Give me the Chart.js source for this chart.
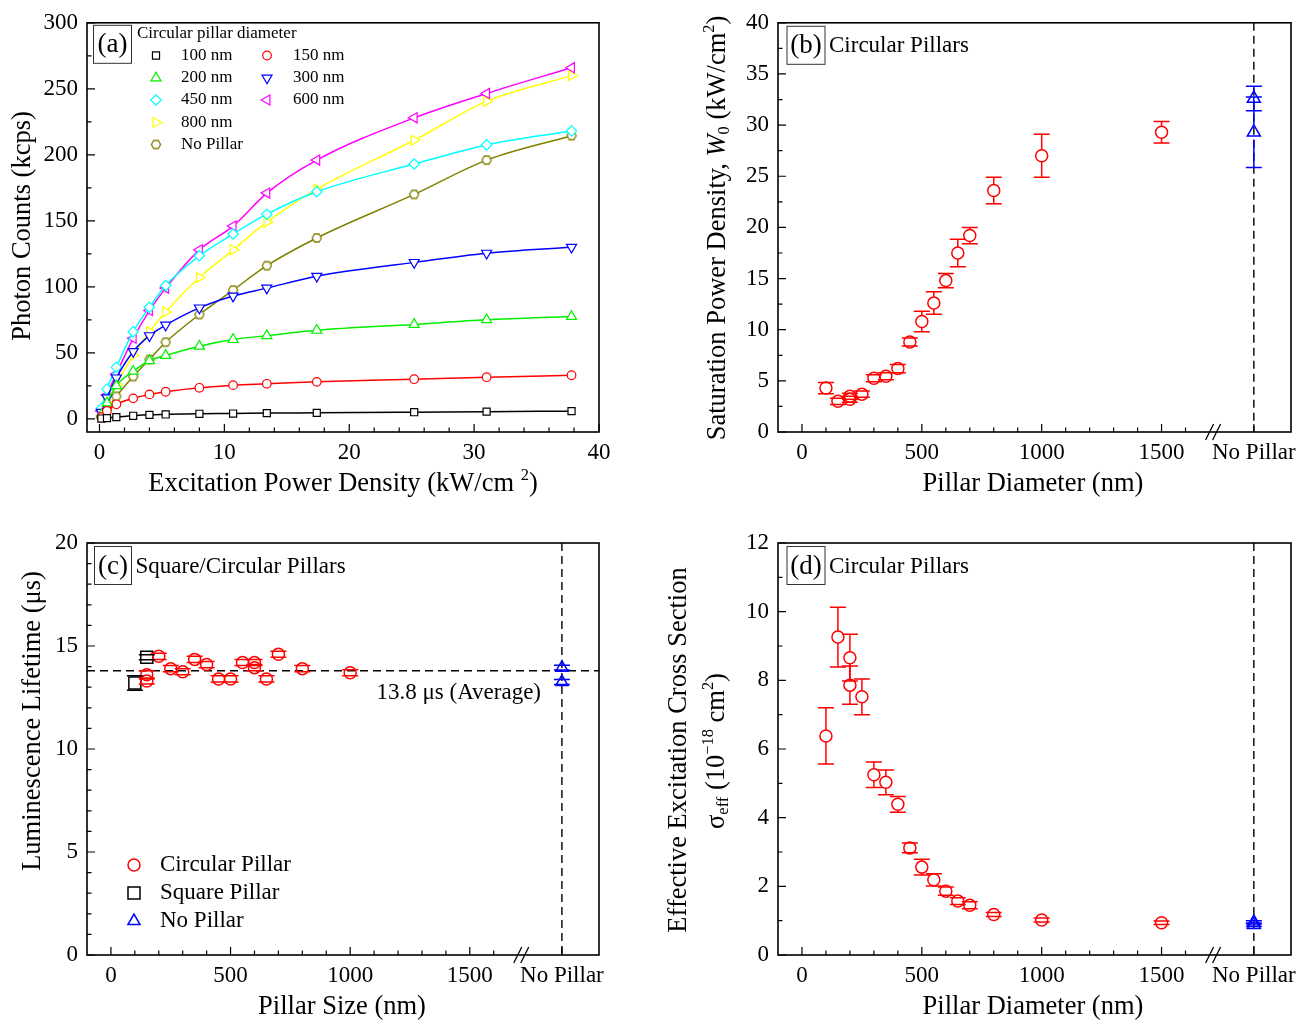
<!DOCTYPE html>
<html>
<head>
<meta charset="utf-8">
<title>Pillar photon counts, saturation, lifetime, cross section</title>
<script src="https://cdn.jsdelivr.net/npm/chart.js@4.4.1/dist/chart.umd.min.js"></script>
<style>
    html, body { margin: 0; padding: 0; background: #fff; }
    #fig { position: relative; width: 1311px; height: 1023px; }
    #fig canvas { position: absolute; }
</style>
</head>
<body>
<div id="fig">
    <canvas id="panelA" width="655" height="511" style="left:0;top:0"></canvas>
    <canvas id="panelB" width="656" height="511" style="left:655px;top:0"></canvas>
    <canvas id="panelC" width="655" height="512" style="left:0;top:511px"></canvas>
    <canvas id="panelD" width="656" height="512" style="left:655px;top:511px"></canvas>
</div>
<script>
// (a) photon counts (kcps) vs excitation power density (kW/cm2)
const powerDensity = [0.15, 0.6, 1.35, 2.7, 4.0, 5.3, 8.0, 10.7, 13.4, 17.4, 25.2, 31.0, 37.8];
const counts100 = [0.2, 0.5, 1.3, 2.3, 3.0, 3.3, 3.8, 4.0, 4.3, 4.5, 5.0, 5.4, 5.8];
const counts150 = [1.2, 6.0, 11.0, 15.5, 18.5, 20.5, 23.5, 25.5, 26.5, 28.0, 30.0, 31.5, 33.0];
const counts200 = [3.0, 12.0, 25.0, 36.0, 44.0, 48.0, 55.0, 60.0, 63.0, 67.0, 71.5, 75.0, 77.5];
const counts300 = [5.0, 16.0, 31.0, 51.0, 63.0, 71.0, 84.0, 93.0, 99.0, 108.0, 118.5, 125.5, 130.0];
const counts450 = [8.0, 22.5, 39.0, 66.0, 84.5, 101.0, 123.5, 140.0, 155.0, 172.0, 193.0, 207.5, 218.0];
const counts600 = [6.0, 18.0, 34.0, 61.0, 82.0, 99.0, 128.0, 146.0, 171.0, 196.0, 228.0, 246.5, 266.0];
const counts800 = [4.0, 12.0, 26.0, 48.0, 66.0, 81.0, 107.0, 128.0, 149.0, 174.0, 211.0, 240.5, 260.0];
const countsNoPillar = [2.0, 7.5, 17.0, 32.0, 45.0, 58.0, 79.0, 97.5, 116.0, 137.0, 170.0, 196.0, 214.5];
const seriesNames = ['100 nm', '150 nm', '200 nm', '300 nm', '450 nm', '600 nm', '800 nm', 'No Pillar'];
const powerTicks = [0, 10, 20, 30, 40];
const countTicks = [0, 50, 100, 150, 200, 250, 300];

// (b) saturation power density W0 (kW/cm2) vs pillar diameter
const diameterB = [100, 150, 200, 200, 250, 300, 350, 400, 450, 500, 550, 600, 650, 700, 800, 1000, 1500];
const satDensity = [4.3, 3.0, 3.5, 3.2, 3.7, 5.25, 5.45, 6.2, 8.8, 10.8, 12.6, 14.8, 17.5, 19.2, 23.6, 27.0, 29.3];
const satDensityErr = [0.55, 0.3, 0.3, 0.3, 0.3, 0.35, 0.35, 0.4, 0.4, 1.0, 1.1, 0.7, 1.35, 0.8, 1.3, 2.1, 1.05];
const satNoPillar = [32.6, 29.3];
const satNoPillarErr = [1.2, 3.45];
const satTicks = [0, 5, 10, 15, 20, 25, 30, 35, 40];

// (c) luminescence lifetime (us) vs pillar size
const diameterC = [150, 150, 200, 250, 300, 350, 400, 450, 500, 550, 600, 600, 650, 700, 800, 1000];
const lifeCircle = [13.6, 13.3, 14.5, 13.9, 13.75, 14.35, 14.1, 13.4, 13.4, 14.2, 14.2, 13.95, 13.4, 14.6, 13.9, 13.7];
const lifeCircleErr = [0.2, 0.15, 0.15, 0.15, 0.15, 0.15, 0.15, 0.15, 0.15, 0.15, 0.15, 0.15, 0.15, 0.15, 0.15, 0.15];
const sizeSquare = [100, 150];
const lifeSquare = [13.2, 14.45];
const lifeSquareErr = [0.35, 0.12];
const lifeNoPillar = [13.95, 13.25];
const lifeNoPillarErr = [0.12, 0.12];
const lifeAverage = 13.8;
const lifeTicks = [0, 5, 10, 15, 20];

// (d) effective excitation cross section (1e-18 cm2) vs pillar diameter
const diameterD = [100, 150, 200, 200, 250, 300, 350, 400, 450, 500, 550, 600, 650, 700, 800, 1000, 1500];
const sigmaEff = [6.38, 9.26, 8.66, 7.86, 7.52, 5.25, 5.03, 4.39, 3.12, 2.56, 2.19, 1.86, 1.57, 1.45, 1.18, 1.02, 0.94];
const sigmaEffErr = [0.82, 0.87, 0.68, 0.56, 0.52, 0.37, 0.36, 0.23, 0.14, 0.23, 0.18, 0.12, 0.1, 0.1, 0.06, 0.06, 0.05];
const sigmaNoPillar = [0.95, 0.88];
const sigmaNoPillarErr = [0.05, 0.05];
const sigmaTicks = [0, 2, 4, 6, 8, 10, 12];

// shared pillar-size axis with a broken "No Pillar" slot
const sizeTicks = [0, 500, 1000, 1500];
const noPillarPos = 1885;
const breakPos = 1715;

const SERIF = '"Liberation Serif", "Times New Roman", serif';
Chart.defaults.font.family = SERIF;
Chart.defaults.color = '#000';

function pts(xs, ys) {
    return xs.map((x, i) => ({ x: x, y: ys[i] }));
}

function hexagon(color, r) {
    const c = document.createElement('canvas');
    const s = Math.ceil(2 * r + 4);
    c.width = s; c.height = s;
    const g = c.getContext('2d');
    g.strokeStyle = color; g.fillStyle = '#fff'; g.lineWidth = 1.3;
    g.beginPath();
    for (let k = 0; k < 6; k++) {
        const a = Math.PI / 3 * k;
        g.lineTo(s / 2 + r * Math.cos(a), s / 2 + r * Math.sin(a));
    }
    g.closePath(); g.fill(); g.stroke();
    return c;
}

// text with italic / sub / superscript runs, centred on (cx, cy)
function rich(ctx, runs, cx, cy, size, vertical) {
    const fontOf = (r) => (r.it ? 'italic ' : '') + ((r.sup || r.sub) ? size * 0.62 : size) + 'px ' + SERIF;
    ctx.save();
    ctx.translate(cx, cy);
    if (vertical) ctx.rotate(-Math.PI / 2);
    let w = 0;
    runs.forEach((r) => { ctx.font = fontOf(r); w += ctx.measureText(r.t).width; });
    let x = -w / 2;
    ctx.fillStyle = '#000'; ctx.textAlign = 'left'; ctx.textBaseline = 'middle';
    runs.forEach((r) => {
        ctx.font = fontOf(r);
        const dy = r.sup ? -size * 0.33 : (r.sub ? size * 0.26 : 0);
        ctx.fillText(r.t, x, dy);
        x += ctx.measureText(r.t).width;
    });
    ctx.restore();
}

const decor = {
    id: 'decor',
    beforeDatasetsDraw(chart, args, o) {
        const ctx = chart.ctx, ca = chart.chartArea;
        const xs = chart.scales.x, ys = chart.scales.y;
        ctx.save();
        ctx.strokeStyle = '#000'; ctx.lineWidth = 1.4;
        ctx.setLineDash([8, 5]);
        ctx.beginPath();
        if (o.vline != null) {
            const px = xs.getPixelForValue(o.vline);
            ctx.moveTo(px, ca.top); ctx.lineTo(px, ca.bottom);
        }
        if (o.hline != null) {
            const py = ys.getPixelForValue(o.hline);
            ctx.moveTo(ca.left, py); ctx.lineTo(ca.right, py);
        }
        ctx.stroke();
        ctx.restore();
    },
    afterDatasetsDraw(chart) {
        // error bars: the stem skips the symbol, caps are always drawn
        const ctx = chart.ctx, xs = chart.scales.x, ys = chart.scales.y;
        ctx.save();
        ctx.lineWidth = 1.5;
        chart.data.datasets.forEach((ds) => {
            if (!ds.err) return;
            ctx.strokeStyle = ds.borderColor;
            ds.data.forEach((p, i) => {
                const px = xs.getPixelForValue(p.x);
                const py = ys.getPixelForValue(p.y);
                const hi = ys.getPixelForValue(p.y + ds.err[i]);
                const lo = ys.getPixelForValue(p.y - ds.err[i]);
                const gap = ds.pointRadius;
                ctx.beginPath();
                if (py - hi > gap) { ctx.moveTo(px, hi); ctx.lineTo(px, py - gap); }
                if (lo - py > gap) { ctx.moveTo(px, py + gap); ctx.lineTo(px, lo); }
                ctx.moveTo(px - 8, hi); ctx.lineTo(px + 8, hi);
                ctx.moveTo(px - 8, lo); ctx.lineTo(px + 8, lo);
                ctx.stroke();
            });
        });
        ctx.restore();
    },
    afterDraw(chart, args, o) {
        const ctx = chart.ctx, ca = chart.chartArea;
        const xs = chart.scales.x, ys = chart.scales.y;
        ctx.save();
        ctx.strokeStyle = '#000';

        // inward ticks on bottom and left
        ctx.lineWidth = 1.2;
        ctx.beginPath();
        const tickX = (v, len) => { const px = xs.getPixelForValue(v); ctx.moveTo(px, ca.bottom); ctx.lineTo(px, ca.bottom - len); };
        const tickY = (v, len) => { const py = ys.getPixelForValue(v); ctx.moveTo(ca.left, py); ctx.lineTo(ca.left + len, py); };
        for (let v = o.minorX[0]; v <= o.minorX[2] + 1e-6; v += o.minorX[1]) tickX(v, 4.5);
        for (let v = o.minorY[0]; v <= o.minorY[2] + 1e-6; v += o.minorY[1]) tickY(v, 4.5);
        xs.ticks.forEach((t) => tickX(t.value, 8));
        ys.ticks.forEach((t) => tickY(t.value, 8));
        ctx.stroke();

        ctx.lineWidth = 1.6;
        ctx.strokeRect(ca.left, ca.top, ca.right - ca.left, ca.bottom - ca.top);

        if (o.breakAt != null) {
            const bx = xs.getPixelForValue(o.breakAt);
            ctx.lineWidth = 1.3;
            ctx.beginPath();
            [-3.5, 3.5].forEach((d) => { ctx.moveTo(bx + d - 4, ca.bottom + 8); ctx.lineTo(bx + d + 4, ca.bottom - 8); });
            ctx.stroke();
        }

        // boxed panel letter
        if (o.tag) {
            const t = o.tag, bx = ca.left + t.dx, by = ca.top + t.dy;
            ctx.lineWidth = 1; ctx.strokeStyle = '#333';
            ctx.strokeRect(bx, by, t.w, t.h);
            ctx.fillStyle = '#000'; ctx.textBaseline = 'middle';
            ctx.font = '27px ' + SERIF; ctx.textAlign = 'center';
            ctx.fillText(t.text, bx + t.w / 2, by + t.h / 2 + 1);
            if (t.label) {
                ctx.font = '23px ' + SERIF; ctx.textAlign = 'left';
                ctx.fillText(t.label, bx + t.w + 4, by + t.h / 2 + 1);
            }
        }

        // legend inside the plot
        if (o.legend) {
            const L = o.legend;
            ctx.textAlign = 'left'; ctx.textBaseline = 'middle';
            ctx.font = L.size + 'px ' + SERIF;
            if (L.title) { ctx.fillStyle = '#000'; ctx.fillText(L.title, L.titleAt[0], L.titleAt[1]); }
            chart.data.datasets.forEach((ds, i) => {
                const it = L.items[i];
                if (!it) return;
                ctx.strokeStyle = ds.borderColor;
                ctx.fillStyle = ds.pointBackgroundColor;
                ctx.lineWidth = ds.pointBorderWidth;
                Chart.helpers.drawPoint(ctx, {
                    pointStyle: ds.pointStyle, rotation: ds.pointRotation || 0,
                    radius: ds.pointRadius, borderWidth: ds.pointBorderWidth
                }, it[0], it[2]);
                ctx.fillStyle = '#000';
                ctx.fillText(ds.label, it[1], it[2]);
            });
        }

        (o.notes || []).forEach((n) => {
            ctx.fillStyle = '#000'; ctx.font = n.size + 'px ' + SERIF;
            ctx.textAlign = n.align; ctx.textBaseline = 'middle';
            ctx.fillText(n.text, n.x, n.y);
        });

        (o.titles || []).forEach((t) => rich(ctx, t.runs, t.x, t.y, 26.5, t.vertical));
        ctx.restore();
    }
};
Chart.register(decor);

function axis(min, max, values, side, size, labelFn) {
    return {
        type: 'linear', min: min, max: max,
        grid: { display: false, drawTicks: false },
        border: { display: false },
        afterBuildTicks: (s) => { s.ticks = values.map((v) => ({ value: v })); },
        afterFit: (s) => { if (side === 'x') s.height = size; else s.width = size; },
        ticks: {
            autoSkip: false, maxRotation: 0, minRotation: 0,
            padding: side === 'x' ? 7 : 9,
            color: '#000', font: { family: SERIF, size: 23 },
            callback: labelFn || ((v) => v)
        }
    };
}

const sizeLabel = (v) => (v === noPillarPos ? 'No Pillar' : v);

function makeChart(id, datasets, padding, xAxis, yAxis, deco) {
    return new Chart(document.getElementById(id), {
        type: 'scatter',
        data: { datasets: datasets },
        options: {
            responsive: false, animation: false, events: [],
            layout: { padding: padding },
            plugins: { legend: { display: false }, tooltip: { enabled: false }, decor: deco },
            scales: { x: xAxis, y: yAxis }
        }
    });
}

function errSet(label, xs, ys, err, color, style, r, rot) {
    return {
        label: label, data: pts(xs, ys), err: err,
        borderColor: color, pointBackgroundColor: 'rgba(0,0,0,0)',
        pointStyle: style, pointRadius: r, pointRotation: rot || 0, pointBorderWidth: 1.5,
        showLine: false
    };
}

// ---------- panel (a) ----------
const aSeries = [counts100, counts150, counts200, counts300, counts450, counts600, counts800, countsNoPillar];
const aLook = [
    { color: '#000000', style: 'rect', r: 5, rot: 0 },
    { color: '#ff0000', style: 'circle', r: 4.3, rot: 0 },
    { color: '#00f000', style: 'triangle', r: 5.8, rot: 0 },
    { color: '#0000ff', style: 'triangle', r: 5.8, rot: 180 },
    { color: '#00ffff', style: 'rectRot', r: 5.2, rot: 0 },
    { color: '#ff00ff', style: 'triangle', r: 5.8, rot: 270 },
    { color: '#ffff00', style: 'triangle', r: 5.8, rot: 90 },
    { color: '#808000', style: hexagon('#808000', 4.6), r: 4.6, rot: 0 }
];
const aSets = aSeries.map((ys, i) => ({
    label: seriesNames[i], data: pts(powerDensity, ys),
    showLine: true, cubicInterpolationMode: 'monotone',
    borderColor: aLook[i].color, borderWidth: 1.5,
    pointBackgroundColor: '#fff', pointBorderWidth: 1.2,
    pointStyle: aLook[i].style, pointRadius: aLook[i].r, pointRotation: aLook[i].rot
}));

makeChart('panelA', aSets, { left: 0, top: 20, right: 56, bottom: 0 },
    axis(-1, 40, powerTicks, 'x', 79),
    axis(-10, 300, countTicks, 'y', 87),
    {
        minorX: [0, 2, 40], minorY: [0, 25, 300],
        tag: { text: '(a)', dx: 6.5, dy: 2.5, w: 38, h: 38 },
        legend: {
            size: 17, title: 'Circular pillar diameter', titleAt: [137, 34],
            items: [[156, 181, 55.5], [267, 293, 55.5], [156, 181, 78], [267, 293, 78],
                    [156, 181, 100], [267, 293, 100], [156, 181, 122.5], [156, 181, 144.5]]
        },
        titles: [
            { runs: [{ t: 'Photon Counts (kcps)' }], x: 23, y: 226, vertical: true },
            { runs: [{ t: 'Excitation Power Density (kW/cm ' }, { t: '2', sup: true }, { t: ')' }], x: 343, y: 484 }
        ]
    });

// ---------- panel (b) ----------
makeChart('panelB', [
        errSet('Circular Pillar', diameterB, satDensity, satDensityErr, '#ff0000', 'circle', 6),
        errSet('No Pillar', [noPillarPos, noPillarPos], satNoPillar, satNoPillarErr, '#0000ff', 'triangle', 7.5)
    ], { left: 0, top: 20, right: 20, bottom: 0 },
    axis(-100, 2040, sizeTicks.concat([noPillarPos]), 'x', 79, sizeLabel),
    axis(0, 40, satTicks, 'y', 123),
    {
        minorX: [0, 100, 1600], minorY: [0, 2.5, 40], breakAt: breakPos, vline: noPillarPos,
        tag: { text: '(b)', dx: 9, dy: 3.5, w: 38, h: 38, label: 'Circular Pillars' },
        titles: [
            { runs: [{ t: 'Saturation Power Density, ' }, { t: 'W', it: true }, { t: '0', sub: true },
                     { t: ' (kW/cm' }, { t: '2', sup: true }, { t: ')' }], x: 63, y: 228, vertical: true },
            { runs: [{ t: 'Pillar Diameter (nm)' }], x: 378, y: 484 }
        ]
    });

// ---------- panel (c) ----------
makeChart('panelC', [
        errSet('Circular Pillar', diameterC, lifeCircle, lifeCircleErr, '#ff0000', 'circle', 6),
        errSet('Square Pillar', sizeSquare, lifeSquare, lifeSquareErr, '#000000', 'rect', 8.5),
        errSet('No Pillar', [noPillarPos, noPillarPos], lifeNoPillar, lifeNoPillarErr, '#0000ff', 'triangle', 7)
    ], { left: 0, top: 32, right: 56, bottom: 0 },
    axis(-100, 2040, sizeTicks.concat([noPillarPos]), 'x', 68, sizeLabel),
    axis(0, 20, lifeTicks, 'y', 87),
    {
        minorX: [0, 100, 1600], minorY: [0, 1, 20], breakAt: breakPos, vline: noPillarPos, hline: lifeAverage,
        tag: { text: '(c)', dx: 7.5, dy: 3.5, w: 37, h: 38, label: 'Square/Circular Pillars' },
        legend: { size: 23, items: [[134, 160, 354], [134, 160, 382], [134, 160, 410]] },
        notes: [{ text: lifeAverage + ' \u03bcs (Average)', x: 541, y: 182, align: 'right', size: 23 }],
        titles: [
            { runs: [{ t: 'Luminescence Lifetime (\u03bcs)' }], x: 33, y: 210, vertical: true },
            { runs: [{ t: 'Pillar Size (nm)' }], x: 342, y: 496 }
        ]
    });

// ---------- panel (d) ----------
makeChart('panelD', [
        errSet('Circular Pillar', diameterD, sigmaEff, sigmaEffErr, '#ff0000', 'circle', 6),
        errSet('No Pillar', [noPillarPos, noPillarPos], sigmaNoPillar, sigmaNoPillarErr, '#0000ff', 'triangle', 7.5)
    ], { left: 0, top: 32, right: 20, bottom: 0 },
    axis(-100, 2040, sizeTicks.concat([noPillarPos]), 'x', 68, sizeLabel),
    axis(0, 12, sigmaTicks, 'y', 123),
    {
        minorX: [0, 100, 1600], minorY: [0, 1, 12], breakAt: breakPos, vline: noPillarPos,
        tag: { text: '(d)', dx: 9, dy: 3.5, w: 38, h: 38, label: 'Circular Pillars' },
        titles: [
            { runs: [{ t: 'Effective Excitation Cross Section' }], x: 24, y: 239, vertical: true },
            { runs: [{ t: '\u03c3' }, { t: 'eff', sub: true }, { t: ' (10' }, { t: '\u221218', sup: true },
                     { t: ' cm' }, { t: '2', sup: true }, { t: ')' }], x: 62, y: 240, vertical: true },
            { runs: [{ t: 'Pillar Diameter (nm)' }], x: 378, y: 496 }
        ]
    });
</script>
</body>
</html>
